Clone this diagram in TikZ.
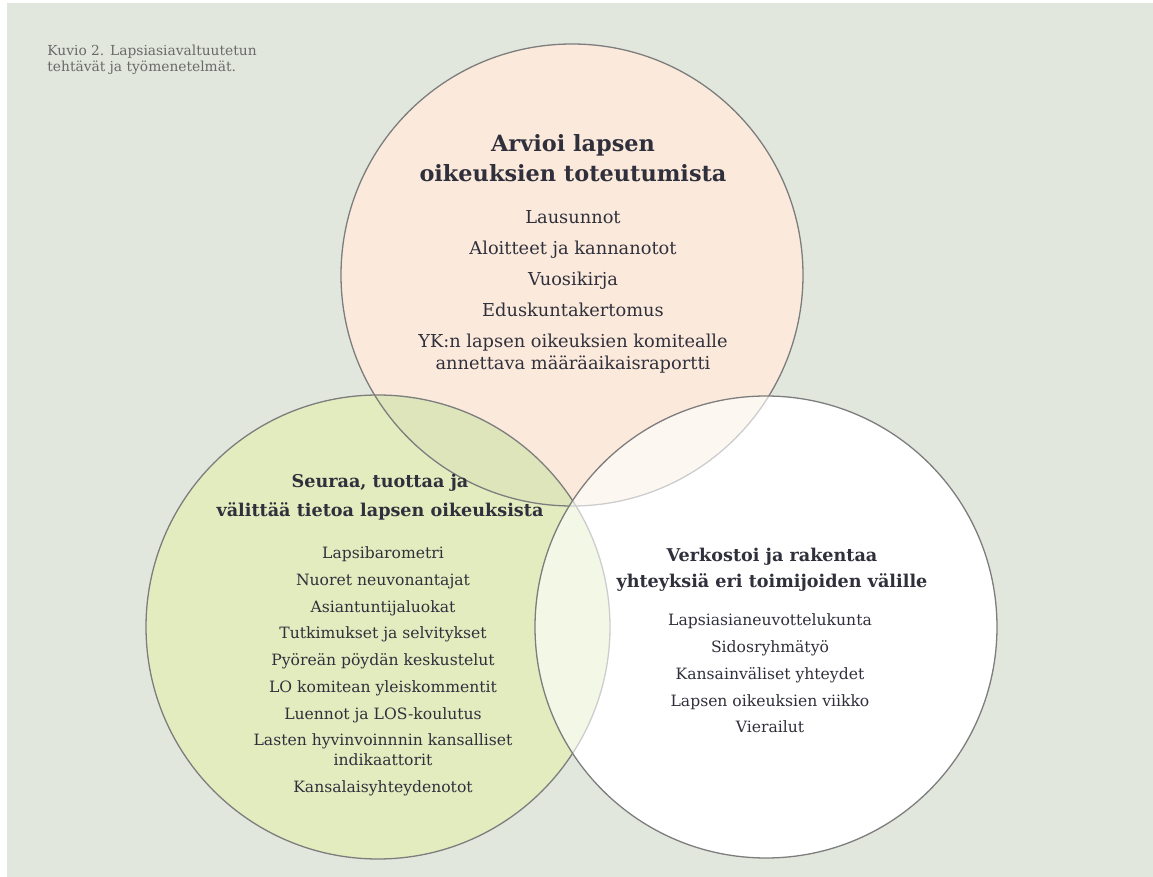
\documentclass[tikz,border=0pt]{standalone}
\usepackage{fontspec}
\setmainfont{DejaVu Serif}
\definecolor{bgcol}{RGB}{226,231,222}
\definecolor{peach}{RGB}{251,234,220}
\definecolor{leaf}{RGB}{226,236,191}
\definecolor{olive}{RGB}{222,229,187}
\definecolor{rimgray}{RGB}{125,125,125}
\definecolor{ink}{RGB}{48,48,60}
\definecolor{capgray}{RGB}{105,105,105}

\begin{document}
\begin{tikzpicture}[x=0.5pt,y=-0.5pt,
  rim/.style={draw=rimgray,line width=0.65pt},
  head/.style={text=ink,align=center},
  items/.style={text=ink,align=center}]
\useasboundingbox (0,0) rectangle (1153,877);
\fill [bgcol] (7,3) rectangle (1153,877);

\coordinate (arvioi) at (572,275);
\coordinate (seuraa) at (378,627);
\coordinate (verkostoi) at (766,627);

\fill [white] (verkostoi) circle (231);
\fill [peach] (arvioi) circle (231);
\fill [leaf] (seuraa) circle (232);
\begin{scope}
\clip (arvioi) circle (231);
\fill [olive] (seuraa) circle (232);
\end{scope}
\draw [rim] (arvioi) circle (231);
\draw [rim] (seuraa) circle (232);
\fill [white,fill opacity=0.62] (verkostoi) circle (231);
\draw [rim] (verkostoi) circle (231);

\node [anchor=north west,inner sep=0,align=left,text=capgray,font=\fontsize{6.9}{7.6}\selectfont] (kuvio) at (47,45) {Kuvio 2. Lapsiasiavaltuutetun\\tehtävät ja työmenetelmät.};

\node [head,font=\bfseries\fontsize{11.2}{15}\selectfont] (arvioiotsikko) at (573,158) {Arvioi lapsen\\oikeuksien toteutumista};
\node [items,font=\fontsize{8.9}{15.5}\selectfont] (arvioilista) at (573,292) {Lausunnot\\Aloitteet ja kannanotot\\Vuosikirja\\Eduskuntakertomus\\YK:n lapsen oikeuksien komitealle\\[-4.5pt]annettava määräaikaisraportti};

\node [head,font=\bfseries\fontsize{8.8}{14.5}\selectfont] (seuraaotsikko) at (380,497.5) {Seuraa, tuottaa ja\\välittää tietoa lapsen oikeuksista};
\node [items,font=\fontsize{7.8}{13.35}\selectfont] (seuraalista) at (383,671.5) {Lapsibarometri\\Nuoret neuvonantajat\\Asiantuntijaluokat\\Tutkimukset ja selvitykset\\Pyöreän pöydän keskustelut\\LO komitean yleiskommentit\\Luennot ja LOS-koulutus\\Lasten hyvinvoinnnin kansalliset\\[-3.35pt]indikaattorit\\Kansalaisyhteydenotot};

\node [head,font=\bfseries\fontsize{8.8}{13}\selectfont] (verkostoiotsikko) at (772,570) {Verkostoi ja rakentaa\\yhteyksiä eri toimijoiden välille};
\node [items,font=\fontsize{7.8}{13.4}\selectfont] (verkostoilista) at (770,673.5) {Lapsiasianeuvottelukunta\\Sidosryhmätyö\\Kansainväliset yhteydet\\Lapsen oikeuksien viikko\\Vierailut};
\end{tikzpicture}
\end{document}
